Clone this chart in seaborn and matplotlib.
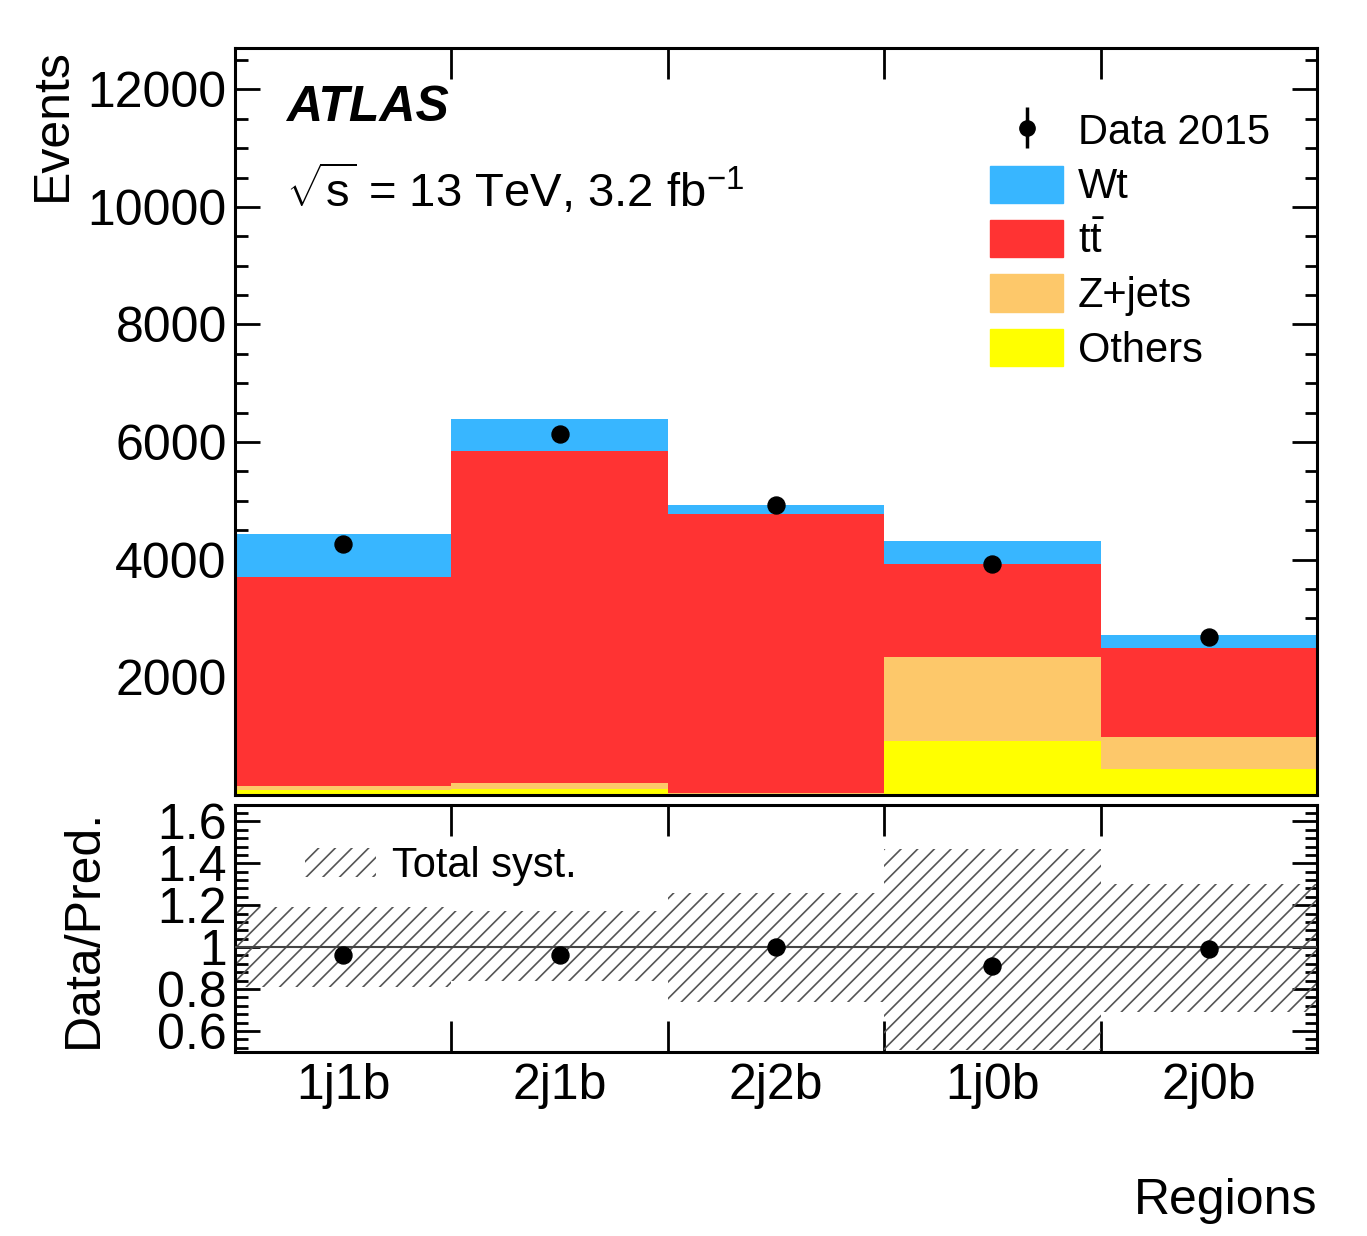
import numpy as np
import matplotlib
matplotlib.use("Agg")
import matplotlib.pyplot as plt
import matplotlib.patches as mpatches
from matplotlib.ticker import MultipleLocator, FixedLocator
from matplotlib.container import ErrorbarContainer
from matplotlib.lines import Line2D
from matplotlib.collections import LineCollection
import seaborn as sns
import pandas as pd

# Data
regions = ['1j1b', '2j1b', '2j2b', '1j0b', '2j0b']
others = [85, 100, 15, 920, 445]
zjets = [70, 105, 20, 1415, 530]
ttbar = [3555, 5650, 4745, 1590, 1515]
wt = [730, 545, 150, 390, 220]
data_2015 = [4265, 6145, 4930, 3925, 2680]
syst_up = [1.19, 1.17, 1.26, 1.47, 1.30]
syst_down = [0.81, 0.84, 0.74, 0.51, 0.69]

colors = {'Others': '#ffff00', 'Z+jets': '#fdc86a', 'tt': '#ff3333', 'Wt': '#38b6ff'}

sns.set_theme(style="ticks")
plt.rcParams['font.family'] = ['Liberation Sans', 'DejaVu Sans']
plt.rcParams['mathtext.fontset'] = 'custom'
plt.rcParams['mathtext.rm'] = 'Liberation Sans'
plt.rcParams['mathtext.it'] = 'Liberation Sans:italic'
plt.rcParams['hatch.color'] = '#555555'
plt.rcParams['hatch.linewidth'] = 1.2
for key in ['text.color', 'axes.labelcolor', 'xtick.color', 'ytick.color']:
    plt.rcParams[key] = 'black'

x = np.arange(len(regions))
edges = np.arange(len(regions) + 1) - 0.5

fig = plt.figure(figsize=(13.67, 12.36), dpi=100)
ax = fig.add_axes([0.172, 0.357, 0.7914, 0.604])
rax = fig.add_axes([0.172, 0.149, 0.7914, 0.200])

# stacked backgrounds
bottom = np.zeros(len(regions))
for name, vals in [('Others', others), ('Z+jets', zjets), ('tt', ttbar), ('Wt', wt)]:
    ax.bar(x, vals, width=1.0, bottom=bottom, color=colors[name], linewidth=0)
    bottom = bottom + np.array(vals)
pred = bottom

df = pd.DataFrame({'x': x, 'data': data_2015})
sns.scatterplot(data=df, x='x', y='data', ax=ax, color='black', s=150, zorder=5,
                edgecolor='black', legend=False)

ax.set_xlim(-0.5, 4.5)
ax.set_ylim(0, 12700)
ax.yaxis.set_major_locator(FixedLocator([2000, 4000, 6000, 8000, 10000, 12000]))
ax.yaxis.set_minor_locator(MultipleLocator(500))
ax.xaxis.set_major_locator(FixedLocator(edges[1:-1]))
ax.set_xticklabels([])
ax.set_xlabel('')
ax.set_ylabel('Events', fontsize=36, loc='top')
ax.yaxis.set_label_coords(-0.147, 1.0)

# ratio panel
ratio = np.array(data_2015) / pred
for i in range(len(regions)):
    rax.bar(x[i], syst_up[i] - syst_down[i], width=1.0, bottom=syst_down[i],
            facecolor='none', edgecolor='#555555', hatch='//', linewidth=0)
rax.axhline(1.0, color='#444444', linewidth=1.5, zorder=3)
rdf = pd.DataFrame({'x': x, 'ratio': ratio})
sns.scatterplot(data=rdf, x='x', y='ratio', ax=rax, color='black', s=150, zorder=5,
                edgecolor='black', legend=False)
rax.set_xlim(-0.5, 4.5)
rax.set_ylim(0.5, 1.68)
rax.yaxis.set_major_locator(FixedLocator([0.6, 0.8, 1.0, 1.2, 1.4, 1.6]))
rax.set_yticklabels(['0.6', '0.8', '1', '1.2', '1.4', '1.6'])
rax.yaxis.set_minor_locator(MultipleLocator(0.04))
rax.xaxis.set_major_locator(FixedLocator(edges[1:-1]))
rax.set_xticklabels([])
rax.set_xticks(x, regions, minor=True)
rax.set_ylabel('Data/Pred.', fontsize=36)
rax.yaxis.set_label_coords(-0.119, 0.5)
rax.set_xlabel('Regions', fontsize=36, loc='right', labelpad=50)

for a in (ax, rax):
    for s in a.spines.values():
        s.set_linewidth(2.2)
        s.set_color('black')
    a.tick_params(axis='both', which='both', direction='in', top=True, right=True,
                  labelsize=36, width=2, color='black')
    a.tick_params(axis='y', which='major', length=18, pad=6)
    a.tick_params(axis='y', which='minor', length=9)
    a.tick_params(axis='x', which='major', length=22)
    a.tick_params(axis='x', which='minor', length=0, pad=8)

# texts
ax.text(0.047, 0.92, 'ATLAS', transform=ax.transAxes, fontsize=36,
        fontweight='bold', fontstyle='italic', va='center')
ax.text(0.047, 0.81, r'$\sqrt{\mathrm{s}}$ = 13 TeV, 3.2 fb$^{\mathregular{-1}}$',
        transform=ax.transAxes, fontsize=34, va='center')

data_line = Line2D([0], [0], color='black', marker='o', markersize=11, linestyle='none')
data_bar = LineCollection([[(0, 0), (0, 1)]], colors='black', linewidths=2.5)
data_handle = ErrorbarContainer((data_line, (), (data_bar,)), has_xerr=False, has_yerr=True)
handles = [
    data_handle,
    mpatches.Patch(color=colors['Wt']),
    mpatches.Patch(color=colors['tt']),
    mpatches.Patch(color=colors['Z+jets']),
    mpatches.Patch(color=colors['Others']),
]
labels = ['Data 2015', 'Wt', r'$\mathrm{t\bar{t}}$', 'Z+jets', 'Others']
ax.legend(handles, labels, loc='upper right', bbox_to_anchor=(0.972, 0.938),
          frameon=False, fontsize=30, handlelength=1.75, handleheight=1.0,
          labelspacing=0.3, handletextpad=0.35, borderaxespad=0)

syst_patch = mpatches.Patch(facecolor='none', edgecolor='#555555', hatch='//', linewidth=0)
rax.legend([syst_patch], ['Total syst.'], loc='upper left', bbox_to_anchor=(0.049, 0.9),
           frameon=False, fontsize=30, handlelength=1.7, handleheight=0.7,
           handletextpad=0.4, borderaxespad=0)

fig.savefig('out.png', dpi=100)
